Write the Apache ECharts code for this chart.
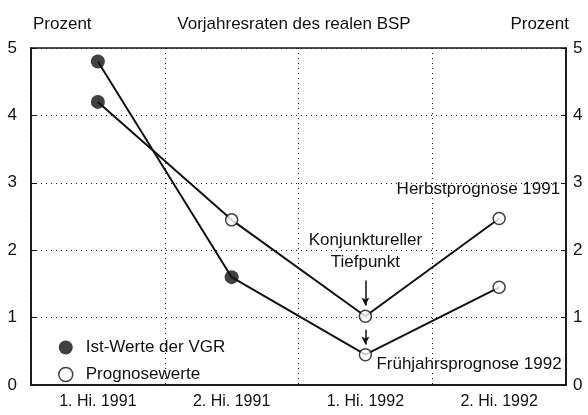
<!DOCTYPE html>
<html>
<head>
<meta charset="utf-8">
<script src="https://cdn.jsdelivr.net/npm/echarts@6/dist/echarts.min.js"></script>
<style>
  html, body { margin: 0; padding: 0; background: #fff; }
  #chart { width: 588px; height: 415px; }
</style>
</head>
<body>
<div id="chart"></div>
<script>
// Halbjahre
var categories = ['1. Hi. 1991', '2. Hi. 1991', '1. Hi. 1992', '2. Hi. 1992'];
// Herbstprognose 1991 (erster Wert = Ist-Wert)
var herbst = [4.2, 2.45, 1.02, 2.47];
// Frühjahrsprognose 1992 (erste zwei Werte = Ist-Werte)
var fruehjahr = [4.8, 1.6, 0.45, 1.45];
// Ist-Werte der VGR: [Kategorie, Wert]
var istWerte = [['1. Hi. 1991', 4.8], ['1. Hi. 1991', 4.2], ['2. Hi. 1991', 1.6]];
// Prognosewerte
var prognose = [['2. Hi. 1991', 2.45], ['1. Hi. 1992', 1.02], ['2. Hi. 1992', 2.47],
                ['1. Hi. 1992', 0.45], ['2. Hi. 1992', 1.45]];
var yTicks = [0, 1, 2, 3, 4, 5];

var FONT = "'Liberation Sans', Arial, sans-serif";
var ink = '#111';
var FS = 17;

(function() {
    var dotted = { color: ink, width: 1, type: [1, 4] };
    var titleStyle = { fontSize: FS, fontWeight: 'normal', fontFamily: FONT, color: ink };

    option = {
        animation: false,
        textStyle: { fontFamily: FONT, color: ink },
        title: [
            { text: 'Prozent', left: 28, top: 11, textStyle: titleStyle },
            { text: 'Vorjahresraten des realen BSP', left: 'center', top: 11, textStyle: titleStyle },
            { text: 'Prozent', right: 14, top: 11, textStyle: titleStyle }
        ],
        legend: {
            orient: 'vertical',
            left: 53,
            top: 334,
            itemGap: 10,
            itemWidth: 14,
            itemHeight: 14,
            textStyle: { fontSize: FS, fontFamily: FONT, color: ink, padding: [0, 0, 0, 8] },
            data: [
                { name: 'Ist-Werte der VGR', icon: 'circle', itemStyle: { color: ink, borderWidth: 0 } },
                { name: 'Prognosewerte', icon: 'circle', itemStyle: { color: '#fff', borderColor: ink, borderWidth: 1.5 } }
            ]
        },
        grid: {
            left: 31, right: 22, top: 48, bottom: 30,
            show: true, borderColor: ink, borderWidth: 1.5
        },
        xAxis: {
            type: 'category',
            data: categories,
            boundaryGap: true,
            axisLine: { lineStyle: { color: ink, width: 1.5 } },
            axisTick: { inside: true, alignWithLabel: true, length: 6, lineStyle: { color: ink } },
            axisLabel: { fontSize: 16, color: ink, fontFamily: FONT, margin: 9 },
            splitLine: { show: true, lineStyle: dotted }
        },
        yAxis: [{
            type: 'value',
            min: yTicks[0], max: yTicks[yTicks.length - 1], interval: 1,
            axisLine: { show: true, lineStyle: { color: ink, width: 1.5 } },
            axisTick: { show: true, inside: true, length: 5, lineStyle: { color: ink } },
            axisLabel: { fontSize: FS, color: ink, fontFamily: FONT, margin: 14 },
            splitLine: { show: true, lineStyle: dotted }
        }, {
            type: 'value',
            position: 'right',
            min: yTicks[0], max: yTicks[yTicks.length - 1], interval: 1,
            axisLine: { show: true, lineStyle: { color: ink, width: 1.5 } },
            axisTick: { show: true, inside: true, length: 5, lineStyle: { color: ink } },
            axisLabel: { fontSize: FS, color: ink, fontFamily: FONT, margin: 7 },
            splitLine: { show: false }
        }],
        series: [{
            name: 'Herbstprognose 1991',
            type: 'line',
            data: herbst,
            symbol: 'none',
            lineStyle: { color: ink, width: 2 },
            z: 2,
            markPoint: {
                symbol: 'circle', symbolSize: 0,
                label: { show: true, fontSize: FS, color: ink, fontFamily: FONT, lineHeight: 22 },
                data: [
                    { coord: ['2. Hi. 1992', 2.9], label: { formatter: 'Herbstprognose 1991', position: 'inside', align: 'right', offset: [61, 0] } },
                    { coord: ['1. Hi. 1992', 1.99], label: { formatter: 'Konjunktureller\nTiefpunkt', position: 'inside', align: 'center', offset: [0, 0] } }
                ]
            },
            markLine: {
                silent: true,
                symbol: ['none', 'arrow'],
                symbolSize: [6, 8],
                label: { show: false },
                lineStyle: { color: ink, width: 1.5, type: 'solid' },
                data: [
                    [{ coord: ['1. Hi. 1992', 1.55] }, { coord: ['1. Hi. 1992', 1.18] }]
                ]
            }
        }, {
            name: 'Frühjahrsprognose 1992',
            type: 'line',
            data: fruehjahr,
            symbol: 'none',
            lineStyle: { color: ink, width: 2 },
            z: 2,
            markPoint: {
                symbol: 'circle', symbolSize: 0,
                label: { show: true, fontSize: FS, color: ink, fontFamily: FONT },
                data: [
                    { coord: ['1. Hi. 1992', 0.3], label: { formatter: 'Frühjahrsprognose 1992', position: 'inside', align: 'left', offset: [11, 0] } }
                ]
            },
            markLine: {
                silent: true,
                symbol: ['none', 'arrow'],
                symbolSize: [6, 8],
                label: { show: false },
                lineStyle: { color: ink, width: 1.5, type: 'solid' },
                data: [
                    [{ coord: ['1. Hi. 1992', 0.82] }, { coord: ['1. Hi. 1992', 0.6] }]
                ]
            }
        }, {
            name: 'Ist-Werte der VGR',
            type: 'scatter',
            data: istWerte,
            symbol: 'circle',
            symbolSize: 14,
            itemStyle: { color: ink },
            z: 5
        }, {
            name: 'Prognosewerte',
            type: 'scatter',
            data: prognose,
            symbol: 'circle',
            symbolSize: 12,
            itemStyle: { color: '#fff', borderColor: ink, borderWidth: 1.5 },
            z: 5
        }]
    };

    var chart = echarts.init(document.getElementById('chart'), null, { renderer: 'canvas' });
    chart.setOption(option);
})();
</script>
</body>
</html>
